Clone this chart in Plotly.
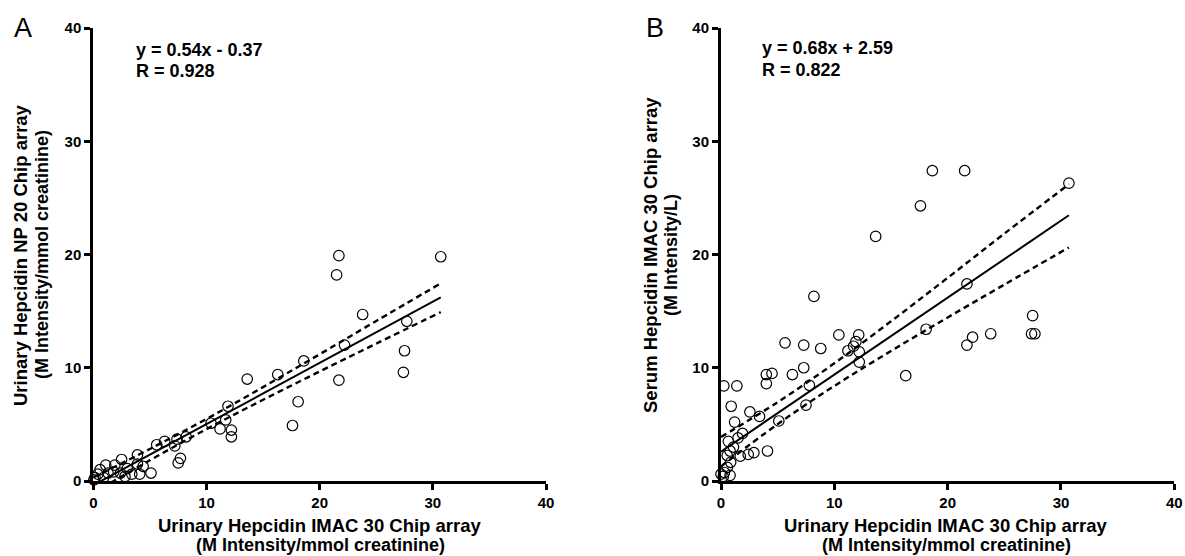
import plotly.graph_objects as go

# ---------------- data ----------------
# Panel A: Urinary IMAC30 (x) vs Urinary NP20 (y)
a_x = [30.7, 21.7, 21.5, 23.8, 27.7, 22.2, 27.5, 27.4, 21.7, 18.6, 16.3, 13.6, 18.1, 17.6,
       11.9, 11.7, 10.4, 11.2, 12.2, 12.2, 8.2, 7.4, 7.2, 6.3, 5.6, 7.7, 7.5, 5.1, 3.9, 3.9,
       4.4, 4.1, 3.4, 2.5, 1.9, 1.1, 0.6, 2.4, 1.8, 1.3, 0.4, 0.15, 0.05, 3.0, 2.8, 0.9]
a_y = [19.8, 19.9, 18.2, 14.7, 14.1, 12.0, 11.5, 9.6, 8.9, 10.6, 9.4, 9.0, 7.0, 4.9,
       6.6, 5.4, 5.1, 4.6, 4.5, 3.9, 3.9, 3.7, 3.1, 3.5, 3.2, 2.0, 1.6, 0.7, 2.3, 1.5,
       1.3, 0.6, 0.6, 1.9, 1.4, 1.4, 1.0, 0.7, 0.8, 0.7, 0.6, 0.3, 0.1, 1.1, 0.4, 0.3]
a_slope, a_intercept = 0.54, -0.37
a_label_eq, a_label_r = "y = 0.54x - 0.37", "R = 0.928"
band_x_a = [0, 5, 10, 15, 20, 25, 30.7]
a_upper = [0.31, 2.83, 5.48, 8.29, 11.19, 14.13, 17.45]
a_lower = [-1.05, 1.83, 4.58, 7.17, 9.67, 12.13, 14.91]

# Panel B: Urinary IMAC30 (x) vs Serum IMAC30 (y)
b_x = [18.65, 21.5, 30.7, 17.6, 13.65, 21.7, 8.2, 27.5, 10.4, 12.15, 11.9, 11.7, 11.2, 12.2,
       12.2, 23.8, 22.2, 21.7, 27.4, 27.7, 18.1, 16.3, 8.8, 7.3, 7.3, 7.8, 7.5, 5.65, 6.3,
       4.5, 4.0, 4.0, 0.25, 1.4, 0.9, 2.55, 3.4, 5.1, 1.2, 1.9, 1.5, 0.65, 1.1, 0.8, 0.55,
       1.7, 2.4, 2.9, 4.1, 0.85, 0.55, 0.3, 0.0, 0.8, 0.2]
b_y = [27.4, 27.4, 26.3, 24.3, 21.6, 17.4, 16.3, 14.6, 12.9, 12.9, 12.3, 11.9, 11.5, 11.4,
       10.5, 13.0, 12.7, 12.0, 13.0, 13.0, 13.4, 9.3, 11.7, 12.0, 10.0, 8.45, 6.7, 12.2, 9.4,
       9.5, 9.4, 8.6, 8.4, 8.4, 6.6, 6.1, 5.7, 5.3, 5.2, 4.2, 3.8, 3.5, 3.0, 2.65, 2.25,
       2.2, 2.35, 2.5, 2.65, 1.65, 1.2, 0.75, 0.6, 0.5, 0.4]
b_slope, b_intercept = 0.68, 2.59
b_label_eq, b_label_r = "y = 0.68x + 2.59", "R = 0.822"
band_x_b = [0, 5, 10, 15, 20, 25, 30.7]
b_upper = [3.89, 6.96, 10.39, 14.10, 17.94, 21.84, 26.2]
b_lower = [1.29, 5.02, 8.39, 11.48, 14.44, 17.34, 20.62]

x_ticks = [0, 10, 20, 30, 40]
y_ticks = [0, 10, 20, 30, 40]
x_title_1, x_title_2 = "Urinary Hepcidin IMAC 30 Chip array", "(M Intensity/mmol creatinine)"
a_y_title_1, a_y_title_2 = "Urinary Hepcidin NP 20 Chip array", "(M Intensity/mmol creatinine)"
b_y_title_1, b_y_title_2 = "Serum Hepcidin IMAC 30 Chip array", "(M Intensity/L)"

# ---------------- figure ----------------
W, H = 1185, 556
FONT = "Liberation Sans, Arial, sans-serif"

def px(x):
    return x / W

def py(y):
    return 1 - y / H

fig = go.Figure()

panels = [
    (a_x, a_y, a_slope, a_intercept, band_x_a, a_upper, a_lower, "x", "y"),
    (b_x, b_y, b_slope, b_intercept, band_x_b, b_upper, b_lower, "x2", "y2"),
]
for xs, ys, m, c, bx, up, lo, xa, ya in panels:
    fig.add_trace(go.Scatter(x=bx, y=up, mode="lines", line=dict(color="black", width=2.4, dash="6px,4px", shape="spline"),
                             xaxis=xa, yaxis=ya, showlegend=False, hoverinfo="skip"))
    fig.add_trace(go.Scatter(x=bx, y=lo, mode="lines", line=dict(color="black", width=2.4, dash="6px,4px", shape="spline"),
                             xaxis=xa, yaxis=ya, showlegend=False, hoverinfo="skip"))
    lx = [min(xs), max(xs)]
    fig.add_trace(go.Scatter(x=lx, y=[m * v + c for v in lx], mode="lines", line=dict(color="black", width=2),
                             xaxis=xa, yaxis=ya, showlegend=False, hoverinfo="skip"))
    fig.add_trace(go.Scatter(x=xs, y=ys, mode="markers", cliponaxis=False,
                             marker=dict(symbol="circle-open", size=10.5, color="black", line=dict(width=1.2, color="black")),
                             xaxis=xa, yaxis=ya, showlegend=False))

ax_common = dict(range=[0, 40], tickvals=x_ticks, showgrid=False, zeroline=False, showline=True,
                 linecolor="black", linewidth=3, ticks="outside", ticklen=6, tickwidth=3, tickcolor="black",
                 tickfont=dict(family=FONT, size=15, color="black", weight="bold"), automargin=False, fixedrange=True)

y_dom = [py(481), py(28)]
fig.update_layout(
    width=W, height=H,
    margin=dict(l=0, r=0, t=0, b=0),
    paper_bgcolor="white", plot_bgcolor="white",
    xaxis=dict(ax_common, domain=[px(93.3), px(546)], anchor="y"),
    yaxis=dict(ax_common, tickvals=y_ticks, domain=y_dom, anchor="x"),
    xaxis2=dict(ax_common, domain=[px(721), px(1174.3)], anchor="y2"),
    yaxis2=dict(ax_common, tickvals=y_ticks, domain=y_dom, anchor="x2"),
)

ann = []
def text(x, y, t, size, bold=True, angle=0, xanchor="center"):
    ann.append(dict(x=px(x), y=py(y), xref="paper", yref="paper", text=t, showarrow=False,
                    xanchor=xanchor, yanchor="middle", textangle=angle,
                    font=dict(family=FONT, size=size, color="black", weight="bold" if bold else "normal")))

text(23, 28, "A", 27, bold=False)
text(655, 28, "B", 27, bold=False)
text(134, 50, a_label_eq, 18, xanchor="left")
text(134, 71, a_label_r, 18, xanchor="left")
text(760, 48, b_label_eq, 18, xanchor="left")
text(760, 70, b_label_r, 18, xanchor="left")
for cx in (320, 946):
    text(cx, 525, x_title_1, 18.5)
    text(cx, 545, x_title_2, 18)
text(20, 255, a_y_title_1, 18.5, angle=-90)
text(42, 255, a_y_title_2, 18, angle=-90)
text(650, 255, b_y_title_1, 18.5, angle=-90)
text(671, 255, b_y_title_2, 18, angle=-90)
fig.update_layout(annotations=ann)

fig.write_html("out.html")
